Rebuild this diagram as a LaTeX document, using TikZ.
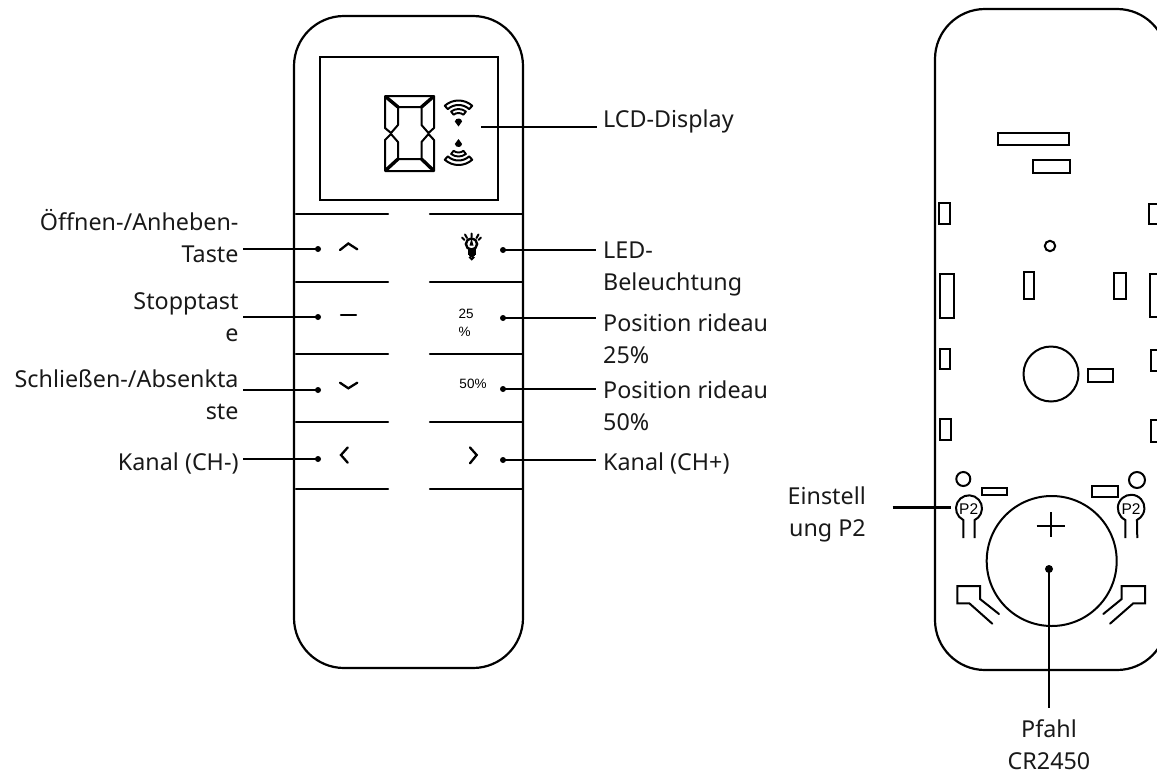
\documentclass[tikz,border=0pt]{standalone}
\usepackage{fontspec}
\setmainfont{Noto Sans}
\newfontfamily\smallsans{Liberation Sans}
\tikzset{
  ln/.style={line width=2.2pt,black},
  thinln/.style={line width=2pt,black},
  bar/.style={line width=2.2pt,black,line cap=round},
  sym/.style={line width=2.3pt,black,line cap=round,line join=miter},
  lead/.style={line width=2.2pt,black},
  pin/.style={circle,fill=black,inner sep=0pt,minimum size=6pt},
  lab/.style={inner sep=0pt,font=\fontsize{23.3}{32}\selectfont,text=black!90},
  labl/.style={lab,anchor=west,align=left},
  labr/.style={lab,anchor=east,align=right},
  labc/.style={lab,align=center},
  tiny/.style={inner sep=0pt,font=\smallsans\fontsize{13.5}{18}\selectfont},
  ptext/.style={inner sep=0pt,font=\smallsans\fontsize{15.5}{17}\selectfont},
}
\newcommand{\fan}{%
  \draw[line width=2pt,line join=round] (228:20.5) arc[start angle=228,end angle=312,radius=20.5] -- (312:16) arc[start angle=312,end angle=228,radius=16] -- cycle;
  \draw[line width=1.9pt,line join=round] (232:12) arc[start angle=232,end angle=308,radius=12] -- (308:8) arc[start angle=308,end angle=232,radius=8] -- cycle;
  \fill (0,5.5) -- (-3.7,0.5) arc[start angle=190,end angle=350,radius=3.7] -- cycle;
}
\begin{document}
\begin{tikzpicture}[x=1pt,y=-1pt]
\useasboundingbox (0,0) rectangle (1157,774);
% left remote body
\draw[ln,rounded corners=50pt] (294,300) -- (294,16) -- (523,16) -- (523,668) -- (294,668) -- cycle;
% display
\draw[ln] (320,57) rectangle (498,200);
% seven segment
\draw[line width=2pt,line join=round] (385,96) -- (434,96) -- (434,128) -- (428.5,133) -- (421.5,125) -- (421.5,107) -- (398,107) -- (398,125) -- (391,133) -- (385,128) -- cycle;
\draw[line width=2pt,line join=round] (385,171) -- (434,171) -- (434,140) -- (428.5,134) -- (421.5,142) -- (421.5,159) -- (398,159) -- (398,142) -- (391,134) -- (385,140) -- cycle;
\draw[line width=3.4pt] (386,97) -- (398,107) (433,97) -- (421.5,107) (386,170) -- (398,159) (433,170) -- (421.5,159);
% wifi symbols
\begin{scope}[shift={(458.5,121)}]\fan\end{scope}
\begin{scope}[shift={(458.5,144.5)},yscale=-1]\fan\end{scope}
% button separators
\foreach \yy in {214,282,354,422,489}{
  \draw[bar] (296,\yy) -- (388,\yy);
  \draw[bar] (430,\yy) -- (522,\yy);
}
% button symbols
\draw[sym] (340,250) -- (348.3,243.5) -- (357.3,249.3);
\draw[sym] (341,315.3) -- (356,315.3);
\draw[sym] (340,382.7) -- (348.3,388.3) -- (357.3,382.7);
\draw[sym] (347.7,447.5) -- (341,455) -- (347.7,462.7);
\draw[sym] (470,447.5) -- (476.7,455) -- (470,463.3);
% bulb
\draw[line width=2.4pt] (471.5,244) circle[radius=5.6];
\fill (471.5,238.5) -- (469.5,245.5) -- (473.5,245.5) -- cycle;
\fill (467.5,248) rectangle (475.5,254.5);
\fill (468.5,254) rectangle (474.5,256);
\fill[white] (471.7,257) circle[radius=1];
\draw[line width=1.8pt] (471.7,257.5) circle[radius=1.9];
\draw[line width=2pt,line cap=round] (471.7,233.5) -- (471.7,237) (465,234.5) -- (467,238) (478.5,234.5) -- (476.5,238) (462,237.5) -- (464.5,240) (481,237.5) -- (478.5,240);
\node[tiny,align=left,anchor=west] (pct25) at (458.3,322.5) {25\\\%};
\node[tiny] (pct50) at (473,384.3) {50\%};
% leaders: pins
\node[pin] (l1) at (318,249) {};
\node[pin] (l2) at (318,317) {};
\node[pin] (l3) at (318,390) {};
\node[pin] (l4) at (318,459) {};
\node[pin] (r1) at (503,250) {};
\node[pin] (r2) at (503,318) {};
\node[pin] (r3) at (503,389) {};
\node[pin] (r4) at (503,460) {};
\coordinate (cl1) at (243,249);
\coordinate (cl2) at (243,317);
\coordinate (cl3) at (243,390);
\coordinate (cl4) at (243,459);
\coordinate (cr1) at (596,250);
\coordinate (cr2) at (596,318);
\coordinate (cr3) at (596,389);
\coordinate (cr4) at (596,460);
\coordinate (lcdA) at (481,127);
\coordinate (lcdB) at (597,127);
\foreach \a/\b in {l1/cl1,l2/cl2,l3/cl3,l4/cl4,r1/cr1,r2/cr2,r3/cr3,r4/cr4}{\draw[lead] (\a.center) -- (\b);}
\draw[lead] (lcdA) -- (lcdB);
% labels left
\node[labr] (t1) at (238.7,236.5) {Öffnen-/Anheben-\\Taste};
\node[labr] (t2) at (238.7,317) {Stopptast\\e};
\node[labr] (t3) at (238.7,395) {Schließen-/Absenkta\\ste};
\node[labr] (t4) at (238.7,463.5) {Kanal (CH-)};
% labels right
\node[labl] (u0) at (603,121.5) {LCD-Display};
\node[labl] (u1) at (603,269) {LED-\\Beleuchtung};
\node[labl] (u2) at (603,339) {Position rideau\\25\%};
\node[labl] (u3) at (603,406) {Position rideau\\50\%};
\node[labl] (u4) at (603,463.5) {Kanal (CH+)};
% right remote
\begin{scope}
\clip (780,0) rectangle (1157,774);
\draw[ln,rounded corners=50pt] (935,300) -- (935,9) -- (1167,9) -- (1167,670) -- (935,670) -- cycle;
\foreach \xa/\ya/\xb/\yb in {
  998.3/132.7/1069/145.3, 1033.3/160/1070.3/172.7,
  939/203.3/949.7/224, 1149/204/1170/224,
  1023.7/272/1034/298.7, 1114/273.3/1126/298.7,
  939.7/274/953.7/318, 1149.7/274/1170/316.7,
  939.7/349.3/950.3/369, 1151/350/1170/370.7,
  1088.3/369/1113.3/381.7,
  940.3/419.3/951/440, 1151/420/1170/441.7,
  981.7/487.7/1006.7/494.7, 1091.7/486/1117.7/496.7}
  {\draw[thinln] (\xa,\ya) rectangle (\xb,\yb);}
\end{scope}
\draw[thinln] (1050,246) circle[radius=5.2];
\draw[thinln] (1051,374) circle[radius=27.5];
\draw[thinln] (963.3,479) circle[radius=7];
\draw[thinln] (1137,480) circle[radius=8];
\node[circle,draw,line width=2pt,minimum size=130pt,inner sep=0pt] (cell) at (1051.7,561) {};
\draw[line width=2pt] (1036.7,525.7) -- (1065,525.7) (1050.7,512.3) -- (1050.7,537.3);
% P2 keyholes
\draw[thinln] (963.3,538) -- (963.3,520) arc[start angle=116,end angle=424,radius=13] -- (974.7,538);
\draw[thinln] (1125.3,538) -- (1125.3,520) arc[start angle=116,end angle=424,radius=13.3] -- (1137.3,538);
\node[ptext] (p2a) at (968.7,509.5) {P2};
\node[ptext] (p2b) at (1131,509.5) {P2};
% hooks
\draw[thinln,line cap=round] (999,614) -- (980,599) -- (980,586) -- (957.3,586) -- (957.3,603.3) -- (969.3,603.3) -- (992.3,623.7);
\draw[thinln,line cap=round] (1103.3,614) -- (1121.7,599) -- (1121.7,586) -- (1145,586) -- (1145,603.3) -- (1133.3,603.3) -- (1110,623.7);
% leaders right remote
\node[pin,minimum size=8pt] (batt) at (1049,569) {};
\coordinate (battEnd) at (1049,708);
\draw[lead] (batt.center) -- (battEnd);
\coordinate (pfrom) at (892.5,507.5);
\coordinate (pto) at (951,507.5);
\draw[lead] (pfrom) -- (pto);
\node[labr] (v1) at (866,514) {Einstell\\ung P2};
\node[labc] (v2) at (1049,745) {Pfahl\\CR2450};
\end{tikzpicture}
\end{document}
